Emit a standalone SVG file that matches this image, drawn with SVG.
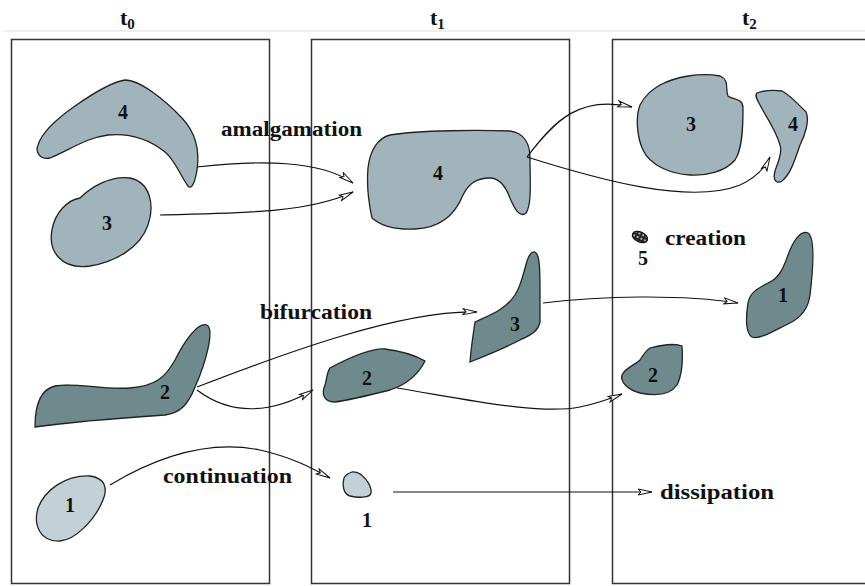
<svg xmlns="http://www.w3.org/2000/svg" width="865" height="586" viewBox="0 0 865 586">
<style>
.frame{fill:none;stroke:#333;stroke-width:1.5}
.blob{stroke:#222;stroke-width:1.3}
.mid{fill:#a2b4bb}
.dark{fill:#6f8a8c}
.light{fill:#c3d0d6}
.num{font-family:"Liberation Serif",serif;font-weight:bold;font-size:20px;fill:#111;text-anchor:middle}
.lbl{font-family:"Liberation Serif",serif;font-weight:bold;font-size:20px;fill:#111}
.ttl{font-family:"Liberation Serif",serif;font-weight:bold;font-size:22px;fill:#111}
.sub{font-size:15px}
.conn path{fill:none;stroke:#111;stroke-width:1.2;marker-end:url(#arr)}
</style>
<defs>
<marker id="arr" markerUnits="userSpaceOnUse" markerWidth="18" markerHeight="10" refX="15" refY="4" orient="auto">
<path d="M1,1 L15,4 L1,7 L4,4 Z" fill="#fff" stroke="#111" stroke-width="1"/>
</marker>
<pattern id="dots" width="4" height="4" patternUnits="userSpaceOnUse">
<rect width="4" height="4" fill="#222"/>
<circle cx="2" cy="2" r="1" fill="#ddd"/>
</pattern>
</defs>
<rect width="865" height="586" fill="#fff"/>
<line x1="4" y1="31" x2="865" y2="31" stroke="#ddd" stroke-width="1"/>

<g id="titles">
<text class="ttl" x="120" y="25">t<tspan class="sub" dy="4">0</tspan></text>
<text class="ttl" x="430" y="25">t<tspan class="sub" dy="4">1</tspan></text>
<text class="ttl" x="742" y="25">t<tspan class="sub" dy="4">2</tspan></text>
</g>

<g id="frames">
<rect class="frame" x="11.5" y="39.5" width="258" height="544"/>
<rect class="frame" x="311.5" y="39.5" width="258" height="544"/>
<rect class="frame" x="612.5" y="39.5" width="260" height="544"/>
</g>

<g id="t0-4">
<path class="blob mid" d="M50,158 C40,160 35,152 38,145 C42,132 55,120 75,106 C95,92 112,82 125,80 C140,80 165,100 182,118 C195,132 200,150 197,170 C195,182 192,190 188,186 C180,175 175,160 165,152 C150,140 130,133 108,135 C85,138 70,150 50,158 Z"/>
<text class="num" x="123" y="119">4</text>
</g>
<g id="t0-3">
<path class="blob mid" d="M80,198 C90,188 110,175 130,178 C150,182 155,205 148,225 C140,248 115,262 90,266 C60,270 48,250 52,230 C55,212 68,200 80,198 Z"/>
<text class="num" x="107" y="230">3</text>
</g>
<g id="t0-2">
<path class="blob dark" d="M35,427 C35,410 38,390 55,386 C75,382 100,390 130,388 C155,386 165,378 175,360 C185,340 198,322 207,325 C215,330 205,365 195,387 C188,405 180,413 165,415 C120,418 70,422 35,427 Z"/>
<text class="num" x="165" y="399">2</text>
</g>
<g id="t0-1">
<path class="blob light" d="M90,476 C105,478 108,488 103,500 C95,520 75,540 60,541 C40,542 33,525 38,508 C45,490 65,475 90,476 Z"/>
<text class="num" x="70" y="512">1</text>
</g>

<g id="t1-4">
<path class="blob mid" d="M390,135 C420,130 480,130 510,131 C525,133 530,145 530,158 C530,180 532,205 526,213 C520,218 515,210 510,198 C505,185 498,178 490,178 C475,178 468,185 463,195 C455,215 440,228 415,229 C395,230 380,225 372,218 C368,200 367,180 368,168 C370,150 378,138 390,135 Z"/>
<text class="num" x="438" y="180">4</text>
</g>
<g id="t1-3">
<path class="blob dark" d="M475,322 C490,315 505,310 515,295 C525,280 525,255 533,252 C540,250 540,270 540,290 L540,322 C538,332 530,335 520,340 C505,348 485,356 470,362 C471,348 473,335 475,322 Z"/>
<text class="num" x="515" y="331">3</text>
</g>
<g id="t1-2">
<path class="blob dark" d="M330,368 C345,360 370,348 385,349 C400,351 415,355 425,361 C418,375 405,385 390,390 C370,395 350,400 335,402 C322,402 322,392 325,385 C327,378 327,372 330,368 Z"/>
<text class="num" x="367" y="385">2</text>
</g>
<g id="t1-1">
<path class="blob light" d="M352,472 C362,471 372,485 371,493 C370,498 358,498 350,496 C343,494 342,484 344,478 C346,474 349,473 352,472 Z"/>
<text class="num" x="367" y="527">1</text>
</g>

<g id="t2-3">
<path class="blob mid" d="M660,85 C675,77 700,72 720,76 C730,80 725,90 728,96 C733,100 743,98 743,108 C743,130 742,150 735,160 C725,172 705,176 690,175 C670,174 650,165 643,150 C636,135 636,115 640,105 C645,95 652,90 660,85 Z"/>
<text class="num" x="691" y="131">3</text>
</g>
<g id="t2-4">
<path class="blob mid" d="M757,93 C765,90 775,90 782,91 C790,95 800,106 806,112 C810,120 805,135 800,145 C795,160 790,175 782,181 C775,185 772,178 776,168 C780,158 782,150 780,145 C776,130 765,115 760,105 C756,98 755,95 757,93 Z"/>
<text class="num" x="793" y="131">4</text>
</g>
<g id="t2-5">
<ellipse cx="640" cy="237" rx="8" ry="5" transform="rotate(25 640 237)" fill="url(#dots)" stroke="#111" stroke-width="1.3"/>
<text class="num" x="643" y="265">5</text>
<text class="lbl" x="665" y="245" textLength="81" lengthAdjust="spacingAndGlyphs">creation</text>
</g>
<g id="t2-1">
<path class="blob dark" d="M790,250 C795,238 802,230 808,233 C815,238 813,270 810,295 C808,310 800,318 790,323 C775,330 760,340 752,337 C745,333 746,315 748,303 C750,292 758,288 770,282 C782,276 785,262 790,250 Z"/>
<text class="num" x="783" y="302">1</text>
</g>
<g id="t2-2">
<path class="blob dark" d="M650,348 C660,345 675,343 682,346 C683,360 682,375 677,385 C670,395 655,396 640,393 C628,390 620,382 622,375 C625,368 635,365 640,360 C644,354 646,350 650,348 Z"/>
<text class="num" x="653" y="382">2</text>
</g>

<g id="labels">
<text class="lbl" x="221" y="136" textLength="141" lengthAdjust="spacingAndGlyphs">amalgamation</text>
<text class="lbl" x="260" y="319" textLength="112" lengthAdjust="spacingAndGlyphs">bifurcation</text>
<text class="lbl" x="163" y="483" textLength="129" lengthAdjust="spacingAndGlyphs">continuation</text>
<text class="lbl" x="660" y="499" textLength="114" lengthAdjust="spacingAndGlyphs">dissipation</text>
</g>

<g id="connectors" class="conn">
<path d="M197,167 C260,160 320,160 353,183"/>
<path d="M160,215 C250,213 310,212 353,192"/>
<path d="M527,157 C555,120 580,95 632,107"/>
<path d="M527,157 C600,180 690,205 740,185 C755,178 765,168 770,157"/>
<path d="M197,387 C280,355 400,310 477,312"/>
<path d="M197,390 C230,415 270,415 313,390"/>
<path d="M110,485 C160,455 210,440 260,450 C295,458 315,470 330,478"/>
<path d="M397,388 C470,400 540,415 580,407 C600,403 612,398 622,394"/>
<path d="M543,303 C600,296 680,294 738,303"/>
<path d="M393,492 L652,492"/>
</g>
</svg>
